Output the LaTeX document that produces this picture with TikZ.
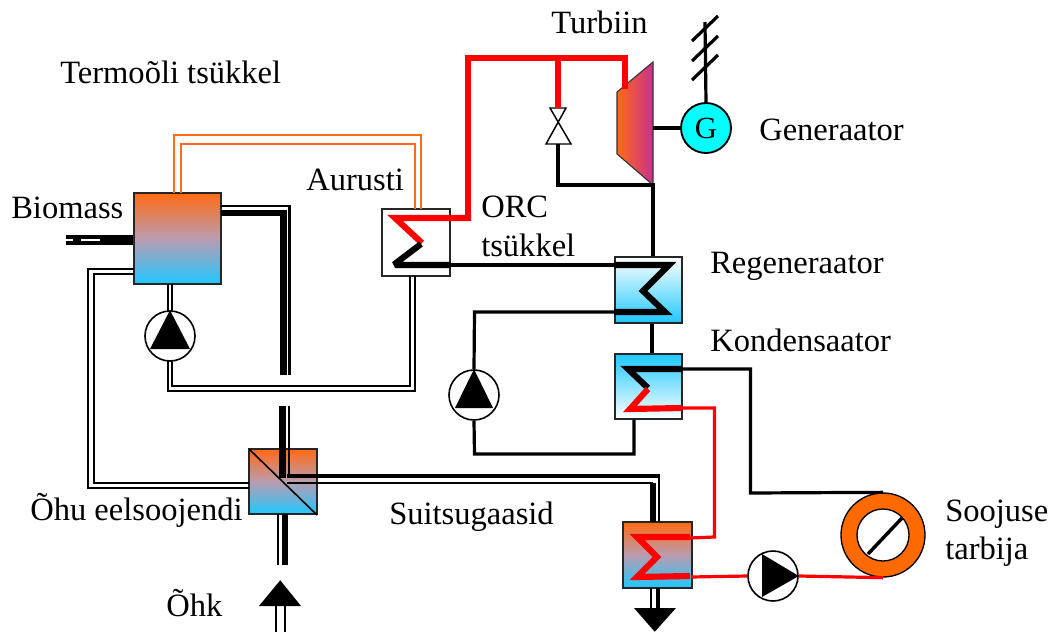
\documentclass[tikz,border=0pt]{standalone}
\usepackage{fontspec}
\setmainfont{Liberation Serif}
\usetikzlibrary{calc}
\definecolor{hot}{HTML}{FF6A14}
\definecolor{cold}{HTML}{1FC8FF}
\definecolor{midmix}{HTML}{BA9CB0}
\definecolor{plum}{HTML}{C8308F}
\definecolor{gcyan}{HTML}{00FFFF}
\definecolor{ringorg}{HTML}{FF6A00}
\begin{document}
\begin{tikzpicture}[x=0.75pt,y=-0.75pt,font=\fontsize{24.4}{28}\selectfont,line join=miter,
  lbl/.style={inner sep=0pt,anchor=base west,text=black},
  hx/.style={rectangle,draw=black!85,line width=1.2pt,inner sep=0pt,minimum width=#1},
  hotcold/.style={shade,top color=hot,bottom color=cold,middle color=midmix},
  pumpc/.style={circle,draw=black,fill=white,line width=1.2pt,minimum size=37.5pt,inner sep=0pt},
  blk/.style={draw=black,line width=2.4pt},
  coilr/.style={draw=red,line width=4.6pt},
  coilb/.style={draw=black,line width=4.6pt},
  redthin/.style={draw=red,line width=2.4pt},
  dbl/.style={draw=black,line width=1.1pt},
  org/.style={draw=hot,line width=1.1pt}]
\useasboundingbox (0,0) rectangle (1051,632);
%% boxes
\node[hx=65.25pt,minimum height=68.25pt,hotcold] (boiler) at (177.5,238.5){};
\node[hx=51pt,minimum height=50.25pt,fill=white] (aurusti) at (416,242.5){};
\node[hx=50.25pt,minimum height=49.5pt,shade,top color=white,bottom color=cold] (regen) at (648.5,290){};
\node[hx=50.25pt,minimum height=48.75pt,shade,top color=cold,bottom color=white] (kond) at (648.5,386.5){};
\node[hx=51pt,minimum height=48.75pt,hotcold] (eels) at (283,481.5){};
\node[hx=51.75pt,minimum height=49.5pt,hotcold] (kyl) at (657.5,555){};
%% turbine and generator
\coordinate (ta) at (617,92);\coordinate (tb) at (653,62);\coordinate (tc) at (653,185);\coordinate (td) at (617,154);
\shade[left color=hot,right color=plum,draw=black!80,line width=.8pt] (ta)--(tb)--(tc)--(td)--cycle;
\node[circle,draw=black,fill=gcyan,line width=1.4pt,minimum size=37.5pt,inner sep=0pt,font=\fontsize{23}{26}\selectfont] (gen) at (706,128){G};
\draw[blk] (tb|-gen)--(gen);
\coordinate (gtop) at (705,22);
\draw[blk] (gen.north)--(gtop);
\foreach \yy in {80,61,41}
  \draw[blk] (692,\yy)--(718,\yy-25);
%% ORC loop
\coordinate (v1) at (558,108);\coordinate (v2) at (558,144);
\draw[black,line width=1.1pt,fill=white] (550,108)--(566,108)--(546,144)--(571,144)--cycle;
\draw[coilr] (468,218)--(468,58)--(625,58)--(625,89);
\draw[coilr] (558,58)--(v1);
\draw[blk] (v2)--(558,185)--(tc)--(regen.north-|tc);
\draw[coilr] (471,218)--(395,218)--(422,243);
\draw[coilb] (421,244)--(396,263)--(397,265)--(aurusti.east|-0,265);
\draw[blk] (aurusti.east|-0,265)--(regen.west|-0,265);
\draw[coilb] (regen.west|-0,265)--(669,265)--(643,291)--(665,312)--(regen.west|-0,312);
\node[pumpc] (orcp) at (474,395){};
\fill (orcp.north)--(493,408)--(455,408)--cycle;
\draw[blk] (regen.west|-0,312)--(474.5,312)--(orcp.north);
\draw[blk] (orcp.south)--(474.5,454)--(634,454)--(kond.south-|634,0);
\draw[blk] (regen.south-|652,0)--(kond.north-|652,0);
%% boiler to evaporator
\draw[org] (174,193)--(174,135)--(421,135)--(421,209);
\draw[org] (181,193)--(181,144)--(415,144)--(415,209);
\node[pumpc] (bp) at (170,336){};
\fill (bp.north)--(190,349)--(150,349)--cycle;
\draw[dbl] (168,284)--(168,312);\draw[dbl] (172,284)--(172,312);
\draw[dbl] (168,361)--(168,391)--(415,391)--(415,276);
\draw[dbl] (172,361)--(172,386)--(410,386)--(410,276);
%% flue gas
\draw[draw=black,line width=2.2pt] (221,206)--(289.5,206)--(289.5,375);
\draw[draw=black,line width=5pt] (221,213)--(283.5,213)--(283.5,375);
\draw[draw=black,line width=5pt] (282.5,406)--(282.5,478);
\draw[draw=black,line width=1.8pt] (289,406)--(289,478);
\draw[draw=black,line width=1.2pt] (249,449)--(317,515);
\draw[draw=black,line width=3.6pt] (287,476)--(660,476);
\draw[draw=black,line width=1.8pt] (659,476)--(659,522);
\draw[draw=black,line width=2.2pt] (287,483)--(653,483);
\draw[draw=black,line width=4.6pt] (653,483)--(653,522);
%% air
\draw[draw=black,line width=4.5pt] (285,514)--(285,565);
\draw[draw=black,line width=1.5pt] (278,514)--(278,565);
\node[inner sep=0pt,minimum size=0pt] (ohk) at (280,580){};
\fill (ohk)--(301,606)--(259,606)--cycle;
\draw[draw=black,line width=1.8pt] (276,606)--(276,632);
\draw[draw=black,line width=1.8pt] (285,606)--(285,632);
%% preheater to boiler
\draw[dbl] (134,269)--(88,269)--(88,488)--(249,488);
\draw[dbl] (134,274)--(94,274)--(94,483)--(249,483);
%% biomass feed
\coordinate (feed) at (66,240);
\draw[draw=black,line width=7.5pt] (feed)--(boiler.west|-feed);
\draw[draw=white,line width=1.1pt] (66,240)--(73,240);
\draw[draw=white,line width=1.1pt] (81,240)--(100,240);
%% condenser, heat consumer
\draw[coilb] (682,369)--(628,369)--(648,388);
\draw[coilr] (648,389)--(630,409)--(682,408);
\node[circle,draw=black,fill=ringorg,line width=1pt,minimum size=63pt,inner sep=0pt] (tarb) at (883,535){};
\node[circle,draw=black,fill=white,line width=1pt,minimum size=39pt,inner sep=0pt] (tarbin) at (883,535){};
\draw[draw=black,line width=2.6pt] (868,554)--(902,518);
\draw[blk] (682,369)--(750.5,369)--(750.5,493)--(tarb.north);
\draw[redthin] (682,408)--(714.5,408)--(714.5,537)--(690,538);
\draw[coilr] (690,537)--(637,537)--(657,557)--(637,577)--(690,576);
\node[pumpc] (hp) at (773,576){};
\fill (762,554)--(hp.east)--(762,597)--cycle;
\draw[redthin] (691,577)--(hp.west);
\draw[redthin] (hp.east)--(tarb.south);
\draw[draw=black,line width=1.8pt] (651,588)--(651,608);
\draw[draw=black,line width=3.6pt] (658,588)--(658,608);
\node[inner sep=0pt,minimum size=0pt] (ulos) at (655,632){};
\fill (ulos)--(634,608)--(676,608)--cycle;
%% labels
\node[lbl] (lturb) at (551,33){Turbiin};
\node[lbl] (ltermo) at (60,83){Termoõli tsükkel};
\node[lbl] (lgen) at (759,140){Generaator};
\node[lbl] (lbio) at (11,218){Biomass};
\node[lbl] (laur) at (306,190){Aurusti};
\node[lbl] (lorc) at (481,217){ORC};
\node[lbl] (ltsy) at (481,256){tsükkel};
\node[lbl] (lreg) at (710,273){Regeneraator};
\node[lbl] (lkon) at (710,351){Kondensaator};
\node[lbl] (leel) at (30,520){Õhu eelsoojendi};
\node[lbl] (lsuit) at (389,524){Suitsugaasid};
\node[lbl] (lohk) at (166,616){Õhk};
\node[lbl] (lsoo) at (945,521){Soojuse};
\node[lbl] (ltar) at (945,559){tarbija};
\end{tikzpicture}
\end{document}
